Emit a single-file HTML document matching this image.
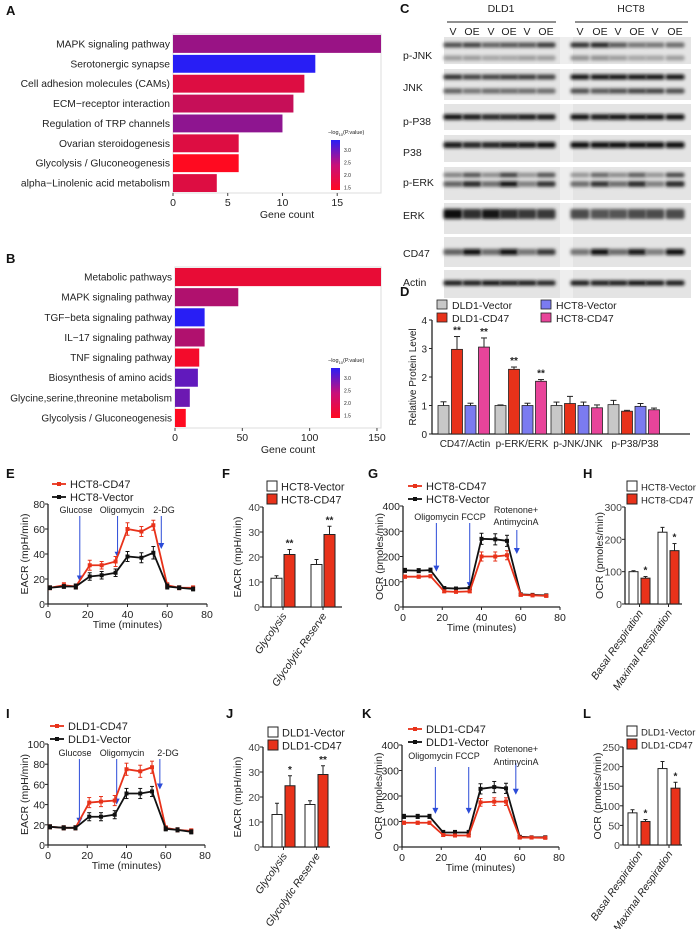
<!DOCTYPE html>
<html><head><meta charset="utf-8"><style>
html,body{margin:0;padding:0;background:#fff;}
svg{display:block;font-family:"Liberation Sans",Arial,sans-serif;}
</style></head><body>
<svg id="fig" width="696" height="929" viewBox="0 0 696 929" xmlns="http://www.w3.org/2000/svg">
<defs>
<filter id="blur" x="-20%" y="-80%" width="140%" height="260%"><feGaussianBlur stdDeviation="1.6"/></filter>
<linearGradient id="cbar" x1="0" y1="1" x2="0" y2="0"><stop offset="0" stop-color="#ff0a20"/><stop offset="0.5" stop-color="#c8107a"/><stop offset="1" stop-color="#2a1ef5"/></linearGradient>
</defs>
</svg>
<script>
// ---------- DATA ----------
const aCats=["MAPK signaling pathway","Serotonergic synapse","Cell adhesion molecules (CAMs)","ECM\u2212receptor interaction","Regulation of TRP channels","Ovarian steroidogenesis","Glycolysis / Gluconeogenesis","alpha\u2212Linolenic acid metabolism"];
const aVals=[19,13,12,11,10,6,6,4];
const aP=[2.4,3.4,1.8,2.0,2.5,1.8,1.5,1.8];
const bCats=["Metabolic pathways","MAPK signaling pathway","TGF\u2212beta signaling pathway","IL\u221217 signaling pathway","TNF signaling pathway","Biosynthesis of amino acids","Glycine,serine,threonine metabolism","Glycolysis / Gluconeogenesis"];
const bVals=[153,47,22,22,18,17,11,8];
const bP=[1.7,2.2,3.5,2.2,1.6,2.9,2.8,1.5];
const dCats=["CD47/Actin","p-ERK/ERK","p-JNK/JNK","p-P38/P38"];
const dSeries=["DLD1-Vector","DLD1-CD47","HCT8-Vector","HCT8-CD47"];
const dVals=[[1,2.97,1,3.05],[1,2.27,1,1.85],[1,1.07,1,0.92],[1.03,0.8,0.97,0.85]];
const dErr=[[0.13,0.45,0.08,0.32],[0.02,0.08,0.08,0.06],[0.12,0.25,0.12,0.1],[0.15,0.03,0.1,0.06]];
const dStars=[["","**","","**"],["","**","","**"],["","","",""],["","","",""]];
const times=[1,8,14,21,27,34,40,47,53,60,66,73];
const eRed=[13,15,14,31,31,34,60,58,63,15,13,13];
const eRedErr=[1.5,2,2,4,3,4,5,4,4,2,1.5,1.5];
const eBlk=[13,14,14,22,23,25,38,37,41,14,13,12];
const eBlkErr=[1.5,1.5,2,3,3,3,4,4,5,2,1.5,1.5];
const iRed=[18,17,17,42,43,44,75,73,77,17,15,14];
const iRedErr=[2,2,2,5,5,5,6,6,6,2,2,2];
const iBlk=[18,17,17,28,28,30,51,51,53,16,15,13];
const iBlkErr=[2,2,2,4,4,4,5,5,5,2,2,2];
const gBlk=[145,144,146,75,73,75,270,268,262,50,48,46];
const gBlkErr=[8,8,8,6,6,6,22,22,22,5,5,5];
const gRed=[120,120,122,62,60,62,200,200,205,48,46,44];
const gRedErr=[6,6,6,5,5,5,18,18,18,5,5,5];
const kBlk=[120,120,120,57,57,57,228,235,230,40,38,38];
const kBlkErr=[8,8,8,8,8,8,20,22,20,5,5,5];
const kRed=[95,95,95,47,45,45,175,178,178,37,37,36];
const kRedErr=[6,6,6,5,5,5,15,15,15,4,4,4];
const glyCats=["Glycolysis","Glycolytic Reserve"];
const fWhite=[11.5,17],fWhiteErr=[1,2],fRed=[21,29],fRedErr=[2,3.3],fStars=["**","**"];
const jWhite=[13,17],jWhiteErr=[4.5,1.5],jRed=[24.5,29],jRedErr=[4,3.5],jStars=["*","**"];
const respCats=["Basal Respiration","Maximal Respiration"];
const hWhite=[100,222],hWhiteErr=[3,15],hRed=[80,165],hRedErr=[5,22],hStars=["*","*"];
const lWhite=[82,195],lWhiteErr=[8,18],lRed=[60,145],lRedErr=[5,15],lStars=["*","*"];
const eTicks=[0,20,40,60,80],iTicks=[0,20,40,60,80,100],xTicks=[0,20,40,60,80];
const gTicks=[0,100,200,300,400],fTicks=[0,10,20,30,40],hTicks=[0,100,200,300],lTicks=[0,50,100,150,200,250];

// ---------- HELPERS ----------
const NS="http://www.w3.org/2000/svg";
const svg=document.getElementById('fig');
function mk(tag,attrs,name,parent){
  const el=document.createElementNS(NS,tag);
  for(const k in attrs) el.setAttribute(k,attrs[k]);
  
  
  (parent||svg).appendChild(el);
  return el;
}
function txt(x,y,s,size,name,extra,parent){
  const a=Object.assign({x:x,y:y,'font-size':size,fill:'#222'},extra||{});
  const t=mk('text',a,name,parent);
  t.textContent=s;
  return t;
}
function lin(d0,d1,r0,r1){return v=>r0+(v-d0)*(r1-r0)/(d1-d0);}
function pcol(p){
  const t=Math.max(0,Math.min(1,(p-1.5)/1.9));
  const r=Math.round(255-t*215),g=Math.round(10+t*20),b=Math.round(32+t*213);
  return `rgb(${r},${g},${b})`;
}
function letter(x,y,s){txt(x,y,s,13,'panel-label-'+s.toLowerCase(),{'font-weight':'bold',fill:'#111'});}

// ---------- A / B horizontal bar charts ----------
function hbar(cats,vals,ps,x0,x1,y0,y1,dmax,ticks,key,legendY,fs){
  const g=mk('g',{},'panel-'+key+'-chart');
  mk('rect',{x:x0,y:y0,width:x1-x0,height:y1-y0,fill:'#fff',stroke:'#ddd','stroke-width':1},'plot-frame',g);
  const X=lin(0,dmax,x0,x1);
  const rowH=(y1-y0)/cats.length;
  cats.forEach((c,i)=>{
    const cy=y0+rowH*(i+0.5);
    mk('rect',{x:x0,y:cy-rowH*0.45,width:X(vals[i])-x0,height:rowH*0.9,fill:pcol(ps[i])},'bar-'+i,g);
    txt(x0-3,cy+3.5,c,fs,'category-label',{'text-anchor':'end'},g);
  });
  ticks.forEach(t=>{
    mk('line',{x1:X(t),x2:X(t),y1:y1,y2:y1+3,stroke:'#444'},'x-tick',g);
    txt(X(t),y1+13,String(t),10.5,'x-tick-label',{'text-anchor':'middle'},g);
  });
  txt((x0+x1)/2+10,y1+25,'Gene count',10.5,'x-axis-title',{'text-anchor':'middle'},g);
  const lx=331;
  const lt=txt(lx-3,legendY-6,'\u2212log',5.5,'legend-title',{},g);
  const s=mk('tspan',{'font-size':4,dy:2},'legend-sub',lt);s.textContent='10';
  const s2=mk('tspan',{dy:-2},'legend-title-rest',lt);s2.textContent='(P.value)';
  mk('rect',{x:lx,y:legendY,width:9,height:50,fill:'url(#cbar)'},'color-bar',g);
  ['3.0','2.5','2.0','1.5'].forEach((l,i)=>txt(lx+13,legendY+12+i*12.5,l,5,'color-bar-label',{},g));
}
letter(6,15,'A');
hbar(aCats,aVals,aP,173,381,34,193,19,[0,5,10,15],'a',140,10.3);
letter(6,263,'B');
hbar(bCats,bVals,bP,175,381,267,428,153,[0,50,100,150],'b',368,10);

// ---------- C western blot ----------
letter(400,13,'C');
const lanesD=[453,472,491,509,527,546],lanesH=[580,600,618,637,655,675];
const blot=mk('g',{},'western-blot');
txt(501,12,'DLD1',10.5,'group-label-dld1',{'text-anchor':'middle'},blot);
txt(631,12,'HCT8',10.5,'group-label-hct8',{'text-anchor':'middle'},blot);
mk('line',{x1:447,x2:556,y1:22,y2:22,stroke:'#222','stroke-width':1},'group-line',blot);
mk('line',{x1:575,x2:688,y1:22,y2:22,stroke:'#222','stroke-width':1},'group-line',blot);
const laneLbl=['V','OE','V','OE','V','OE'];
lanesD.concat(lanesH).forEach((x,i)=>txt(x,35,laneLbl[i%6],10.5,'lane-label',{'text-anchor':'middle'},blot));
const rows=[
 {n:'p-JNK',y0:37,y1:64,ly:55,bands:[[45,5,[.7,.75,.6,.65,.65,.8,.85,.9,.65,.5,.5,.55]],[58,5,[.3,.3,.25,.25,.3,.3,.35,.35,.3,.25,.25,.3]]]},
 {n:'JNK',y0:69,y1:100,ly:87,bands:[[77,5,[.85,.75,.75,.8,.8,.75,1,1,1,1,1,1]],[91,5,[.6,.5,.55,.55,.55,.55,.7,.65,.7,.75,.75,.7]]]},
 {n:'p-P38',y0:104,y1:130,ly:121,bands:[[117,5.5,[1,.95,.9,.9,.95,.95,1,.95,1,1,1,1]]]},
 {n:'P38',y0:135,y1:162,ly:152,bands:[[145,6,[.95,.9,.9,.95,.95,1,1,1,1,1,1,1]]]},
 {n:'p-ERK',y0:167,y1:200,ly:182,bands:[[175,4.5,[.45,.7,.4,.8,.35,.7,.35,.6,.4,.65,.35,.75]],[184,5.5,[.6,.9,.55,1,.45,.85,.55,.85,.55,.9,.45,.9]]]},
 {n:'ERK',y0:203,y1:234,ly:215,bands:[[214,10,[1,.85,.95,.85,.8,.8,.7,.65,.65,.7,.7,.7]]]},
 {n:'CD47',y0:237,y1:267,ly:253,bands:[[252,6,[.6,1,.55,1,.5,.8,.5,1,.55,.95,.45,1]]]},
 {n:'Actin',y0:270,y1:298,ly:282,bands:[[283,5,[.95,.95,1,.95,.95,.9,.95,.95,.95,1,.95,.95]]]}
];
const lanes=lanesD.concat(lanesH);
rows.forEach(r=>{
  const g=mk('g',{},'blot-row-'+r.n.toLowerCase());
  mk('rect',{x:444,y:r.y0,width:247,height:r.y1-r.y0,fill:'#e4e4e4'},'blot-background',g);
  mk('rect',{x:560,y:r.y0,width:13,height:r.y1-r.y0,fill:'#eeeeee'},'blot-gap',g);
  r.bands.forEach(b=>{
    lanes.forEach((x,i)=>{
      const v=b[2][i];
      const c=Math.round(215-v*200);
      mk('rect',{x:x-9.5,y:b[0]-b[1]/2,width:19,height:b[1],rx:2,fill:`rgb(${c},${c},${c})`,filter:'url(#blur)'},'band',g);
    });
  });
  txt(403,r.ly+4,r.n,10.5,'row-label',{},g);
});

// ---------- D grouped bar chart ----------
letter(400,296,'D');
(function(){
  const g=mk('g',{},'panel-d-chart');
  const Y=lin(0,4,434,320);
  const ax=432,axR=690;
  const cols=['#c8c8c8','#e8321a','#7b7bf0','#e8449a'];
  const centers=[465,522,578,635];
  mk('line',{x1:ax,x2:ax,y1:Y(4),y2:Y(0),stroke:'#222','stroke-width':1.3},'y-axis',g);
  mk('line',{x1:ax,x2:axR,y1:Y(0),y2:Y(0),stroke:'#222','stroke-width':1.3},'x-axis',g);
  [0,1,2,3,4].forEach(t=>{
    mk('line',{x1:ax-3,x2:ax,y1:Y(t),y2:Y(t),stroke:'#222'},'y-tick',g);
    txt(ax-5,Y(t)+4,String(t),10,'y-tick-label',{'text-anchor':'end'},g);
  });
  txt(0,0,'Relative Protein Level',10,'y-axis-title',{'text-anchor':'middle',transform:`translate(416,${Y(2)}) rotate(-90)`},g);
  dCats.forEach((c,i)=>{
    dVals[i].forEach((v,j)=>{
      const bx=centers[i]-27+j*13.5;
      const top=Y(v+dErr[i][j]);
      mk('line',{x1:bx+5.5,x2:bx+5.5,y1:top,y2:Y(v),stroke:'#222'},'error-bar',g);
      mk('line',{x1:bx+2.5,x2:bx+8.5,y1:top,y2:top,stroke:'#222'},'error-cap',g);
      mk('rect',{x:bx,y:Y(v),width:11,height:Y(0)-Y(v),fill:cols[j],stroke:'#222','stroke-width':0.8},'bar-'+dSeries[j].toLowerCase(),g);
      if(dStars[i][j]) txt(bx+5.5,top-3,dStars[i][j],10,'significance-star',{'text-anchor':'middle','font-weight':'bold'},g);
    });
    txt(centers[i],447,c,10,'x-category-label',{'text-anchor':'middle'},g);
  });
  const lp=[[437,300],[437,313],[541,300],[541,313]];
  dSeries.forEach((s,j)=>{
    mk('rect',{x:lp[j][0],y:lp[j][1],width:10,height:9,fill:cols[j],stroke:'#222','stroke-width':0.8},'legend-swatch',g);
    txt(lp[j][0]+15,lp[j][1]+9,s,10.5,'legend-entry',{},g);
  });
})();

// ---------- line charts ----------
function lineChart(o){
  const g=mk('g',{},o.name);
  const X=lin(0,80,o.x0,o.x1),Y=lin(0,o.ymax,o.yb,o.yt);
  mk('line',{x1:o.x0,x2:o.x0,y1:o.yt,y2:o.yb,stroke:'#222','stroke-width':1.3},'y-axis',g);
  mk('line',{x1:o.x0,x2:o.x1,y1:o.yb,y2:o.yb,stroke:'#222','stroke-width':1.3},'x-axis',g);
  o.yTicks.forEach(t=>{
    mk('line',{x1:o.x0-3,x2:o.x0,y1:Y(t),y2:Y(t),stroke:'#222'},'y-tick',g);
    txt(o.x0-3,Y(t)+4,String(t),10.5,'y-tick-label',{'text-anchor':'end'},g);
  });
  xTicks.forEach(t=>{
    mk('line',{x1:X(t),x2:X(t),y1:o.yb,y2:o.yb+3,stroke:'#222'},'x-tick',g);
    txt(X(t),o.yb+14,String(t),10.5,'x-tick-label',{'text-anchor':'middle'},g);
  });
  txt((o.x0+o.x1)/2,o.yb+24,'Time (minutes)',10.5,'x-axis-title',{'text-anchor':'middle'},g);
  txt(0,0,o.ytitle,10.5,'y-axis-title',{'text-anchor':'middle',transform:`translate(${o.x0-20},${(o.yt+o.yb)/2}) rotate(-90)`},g);
  o.arrows.forEach(a=>{
    const ax=X(a[0]);
    mk('line',{x1:ax,x2:ax,y1:a[1],y2:Y(a[2])-5,stroke:'#2b4bd8','stroke-width':1},'injection-arrow',g);
    mk('path',{d:`M${ax-3},${Y(a[2])-6}L${ax+3},${Y(a[2])-6}L${ax},${Y(a[2])}Z`,fill:'#2b4bd8'},'arrow-head',g);
  });
  o.labels.forEach(l=>txt(l[0],l[1],l[2],9,'injection-label',{'text-anchor':'middle'},g));
  o.series.forEach(s=>{
    const pts=times.map((t,i)=>X(t)+','+Y(s.v[i])).join(' ');
    s.v.forEach((v,i)=>{
      mk('line',{x1:X(times[i]),x2:X(times[i]),y1:Y(v+s.e[i]),y2:Y(v-s.e[i]),stroke:s.c},'error-bar',g);
      mk('line',{x1:X(times[i])-2,x2:X(times[i])+2,y1:Y(v+s.e[i]),y2:Y(v+s.e[i]),stroke:s.c},'error-cap',g);
      mk('line',{x1:X(times[i])-2,x2:X(times[i])+2,y1:Y(v-s.e[i]),y2:Y(v-s.e[i]),stroke:s.c},'error-cap',g);
    });
    mk('polyline',{points:pts,fill:'none',stroke:s.c,'stroke-width':1.8},'line-'+s.n.toLowerCase(),g);
    s.v.forEach((v,i)=>mk('rect',{x:X(times[i])-2,y:Y(v)-2,width:4,height:4,fill:s.c},'point',g));
  });
  o.legend.forEach((s,i)=>{
    const ly=o.ly+i*13;
    mk('line',{x1:o.lx,x2:o.lx+14,y1:ly,y2:ly,stroke:s[1],'stroke-width':1.8},'legend-line',g);
    mk('rect',{x:o.lx+5,y:ly-2,width:4,height:4,fill:s[1]},'legend-marker',g);
    txt(o.lx+18,ly+4,s[0],11,'legend-entry',{},g);
  });
}
letter(6,478,'E');
lineChart({name:'panel-e-chart',x0:48,x1:207,yt:504,yb:604,ymax:80,yTicks:eTicks,ytitle:'EACR (mpH/min)',
  series:[{n:'HCT8-CD47',v:eRed,e:eRedErr,c:'#e8321a'},{n:'HCT8-Vector',v:eBlk,e:eBlkErr,c:'#111'}],
  arrows:[[16,516,18],[35,516,37],[57,516,44]],labels:[[76,513,'Glucose'],[122,513,'Oligomycin'],[164,513,'2-DG']],
  legend:[['HCT8-CD47','#e8321a'],['HCT8-Vector','#111']],lx:52,ly:484});
letter(6,718,'I');
lineChart({name:'panel-i-chart',x0:48,x1:205,yt:744,yb:845,ymax:100,yTicks:iTicks,ytitle:'EACR (mpH/min)',
  series:[{n:'DLD1-CD47',v:iRed,e:iRedErr,c:'#e8321a'},{n:'DLD1-Vector',v:iBlk,e:iBlkErr,c:'#111'}],
  arrows:[[16,759,21],[35,759,40],[57,759,55]],labels:[[75,756,'Glucose'],[122,756,'Oligomycin'],[168,756,'2-DG']],
  legend:[['DLD1-CD47','#e8321a'],['DLD1-Vector','#111']],lx:50,ly:726});
letter(368,478,'G');
lineChart({name:'panel-g-chart',x0:403,x1:560,yt:506,yb:607,ymax:400,yTicks:gTicks,ytitle:'OCR (pmoles/min)',
  series:[{n:'HCT8-Vector',v:gBlk,e:gBlkErr,c:'#111'},{n:'HCT8-CD47',v:gRed,e:gRedErr,c:'#e8321a'}],
  arrows:[[17,523,140],[34,523,75],[58,530,210]],labels:[[450,520,'Oligomycin FCCP'],[516,513,'Rotenone+'],[516,525,'AntimycinA']],
  legend:[['HCT8-CD47','#e8321a'],['HCT8-Vector','#111']],lx:408,ly:486});
letter(362,718,'K');
lineChart({name:'panel-k-chart',x0:402,x1:559,yt:745,yb:847,ymax:400,yTicks:gTicks,ytitle:'OCR (pmoles/min)',
  series:[{n:'DLD1-Vector',v:kBlk,e:kBlkErr,c:'#111'},{n:'DLD1-CD47',v:kRed,e:kRedErr,c:'#e8321a'}],
  arrows:[[17,767,130],[34,767,130],[58,763,205]],labels:[[444,759,'Oligomycin FCCP'],[516,752,'Rotenone+'],[516,765,'AntimycinA']],
  legend:[['DLD1-CD47','#e8321a'],['DLD1-Vector','#111']],lx:408,ly:729});

// ---------- small bar charts ----------
function smallBar(o){
  const g=mk('g',{},o.name);
  const Y=lin(0,o.ymax,o.yb,o.yt);
  mk('line',{x1:o.ax,x2:o.ax,y1:o.yt,y2:o.yb,stroke:'#222','stroke-width':1.3},'y-axis',g);
  mk('line',{x1:o.ax,x2:o.axR,y1:o.yb,y2:o.yb,stroke:'#222','stroke-width':1.3},'x-axis',g);
  o.ticks.forEach(t=>{
    mk('line',{x1:o.ax-3,x2:o.ax,y1:Y(t),y2:Y(t),stroke:'#222'},'y-tick',g);
    txt(o.ax-3,Y(t)+4,String(t),10.5,'y-tick-label',{'text-anchor':'end',fill:'#444'},g);
  });
  txt(0,0,o.ytitle,10.5,'y-axis-title',{'text-anchor':'middle',transform:`translate(${o.ax-22},${(o.yt+o.yb)/2}) rotate(-90)`},g);
  o.cats.forEach((c,i)=>{
    const bx=o.bx[i];
    [[o.w,o.we,'#fff','white'],[o.r,o.re,'#e8321a','red']].forEach((s,j)=>{
      const x=bx+j*o.step,v=s[0][i],top=Y(v+s[1][i]);
      mk('line',{x1:x+o.bw/2,x2:x+o.bw/2,y1:top,y2:Y(v),stroke:'#222'},'error-bar',g);
      mk('line',{x1:x+o.bw/2-2,x2:x+o.bw/2+2,y1:top,y2:top,stroke:'#222'},'error-cap',g);
      mk('rect',{x:x,y:Y(v),width:o.bw,height:o.yb-Y(v),fill:s[2],stroke:'#222','stroke-width':1},'bar-'+s[3],g);
      if(j===1) txt(x+o.bw/2,top-3,o.stars[i],10,'significance-star',{'text-anchor':'middle','font-weight':'bold'},g);
    });
    const cx=bx+o.step+o.bw/2;
    mk('line',{x1:cx-o.step/2,x2:cx-o.step/2,y1:o.yb,y2:o.yb+3,stroke:'#222'},'x-tick',g);
    txt(0,0,c,10.5,'x-category-label',{'text-anchor':'end','font-style':'italic',transform:`translate(${cx-o.step/2+4},${o.yb+9}) rotate(-55)`},g);
  });
  o.legend.forEach((s,i)=>{
    mk('rect',{x:o.lx,y:o.ly+i*13,width:10,height:10,fill:s[1],stroke:'#222','stroke-width':1},'legend-swatch',g);
    txt(o.lx+14,o.ly+i*13+9.5,s[0],o.lfs,'legend-entry',{},g);
  });
}
letter(222,478,'F');
smallBar({name:'panel-f-chart',ax:263,axR:342,yt:507,yb:607,ymax:40,ticks:fTicks,ytitle:'EACR (mpH/min)',cats:glyCats,
  w:fWhite,we:fWhiteErr,r:fRed,re:fRedErr,stars:fStars,bx:[271,311],step:13,bw:11,
  legend:[['HCT8-Vector','#fff'],['HCT8-CD47','#e8321a']],lx:267,ly:481,lfs:11});
letter(226,718,'J');
smallBar({name:'panel-j-chart',ax:263,axR:330,yt:747,yb:847,ymax:40,ticks:fTicks,ytitle:'EACR (mpH/min)',cats:glyCats,
  w:jWhite,we:jWhiteErr,r:jRed,re:jRedErr,stars:jStars,bx:[272,305],step:13,bw:10,
  legend:[['DLD1-Vector','#fff'],['DLD1-CD47','#e8321a']],lx:268,ly:727,lfs:11});
letter(583,478,'H');
smallBar({name:'panel-h-chart',ax:625,axR:682,yt:507,yb:604,ymax:300,ticks:hTicks,ytitle:'OCR (pmoles/min)',cats:respCats,
  w:hWhite,we:hWhiteErr,r:hRed,re:hRedErr,stars:hStars,bx:[629,658],step:12,bw:9,
  legend:[['HCT8-Vector','#fff'],['HCT8-CD47','#e8321a']],lx:627,ly:481,lfs:9.5});
letter(583,718,'L');
smallBar({name:'panel-l-chart',ax:623,axR:682,yt:747,yb:845,ymax:250,ticks:lTicks,ytitle:'OCR (pmoles/min)',cats:respCats,
  w:lWhite,we:lWhiteErr,r:lRed,re:lRedErr,stars:lStars,bx:[628,658],step:13,bw:9,
  legend:[['DLD1-Vector','#fff'],['DLD1-CD47','#e8321a']],lx:627,ly:726,lfs:9.5});
</script>
</body></html>
